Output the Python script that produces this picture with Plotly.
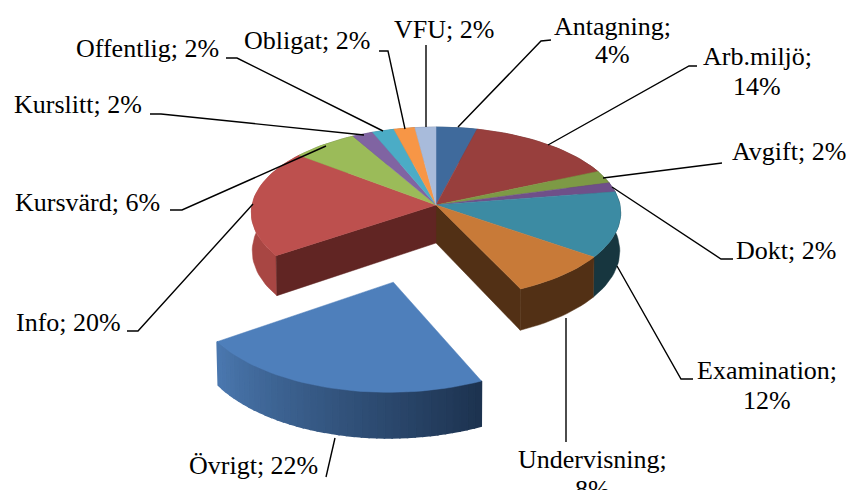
import math
import plotly.graph_objects as go

# ---- data ----
CATEGORIES = ["Antagning", "Arb.miljö", "Avgift", "Dokt", "Examination", "Undervisning",
              "Övrigt", "Info", "Kursvärd", "Kurslitt", "Offentlig", "Obligat", "VFU"]
VALUES = [3.9, 14.4, 2.4, 1.8, 12.4, 8.2, 22.4, 20.2, 6.3, 2.0, 2.1, 2.0, 2.0]
EXPLODED = "Övrigt"

# ---- styles ----
TOP_COLORS = ["#3f6a9c", "#983f3d", "#7d9a45", "#6f5089", "#3c8ba3", "#c87a38", "#4e7fbb",
              "#bd504e", "#9bbb59", "#8064a2", "#4bacc6", "#f79646", "#a8bbdb"]
SIDE_COLORS = ["#25405e", "#5c2624", "#4b5d2a", "#433053", "#17363f", "#523015", "#4a77ae",
               "#a84643", "#5d7136", "#4d3c62", "#2d6778", "#95592a", "#65718a"]
CUT_COLORS = {"Undervisning": "#523015", "Info": "#612523"}
GRADIENT_END = {"Övrigt": "#1d3350"}

# ---- layout: projection of the tilted pie ----
WIDTH, HEIGHT = 850, 490
CX, CY = 436, 205
RX, RY = 184, 85
PERSPECTIVE = 0.09
DEPTH = 38
DEPTH_SHRINK = 0.005
EXPLODE = 0.87
EXPLODE_NUDGE = 0.015
FONT = "Liberation Serif"
FONT_SIZE = 26

LABELS = [  # category, centre x, centre y of first line, y of the wrapped line (or None)
    ("Antagning", 612, 26, 55), ("Arb.miljö", 757, 56, 87), ("Avgift", 789, 151, None),
    ("Dokt", 786, 250, None), ("Examination", 767, 370, 401), ("Undervisning", 592, 459, 490),
    ("Övrigt", 253, 465, None), ("Info", 68, 322, None), ("Kursvärd", 87, 202, None),
    ("Kurslitt", 78, 104, None), ("Offentlig", 147, 48, None), ("Obligat", 307, 40, None),
    ("VFU", 444, 29, None),
]
LEADERS = [
    [(551, 40), (541, 41), (458, 127)],
    [(697, 66), (689, 66), (548, 145)],
    [(722, 163), (603, 178)],
    [(733, 259), (721, 259), (612, 187)],
    [(693, 379), (681, 379), (617, 266)],
    [(566, 442), (566, 318)],
    [(326, 477), (335, 438)],
    [(127, 331), (138, 331), (253, 204)],
    [(170, 210), (182, 210), (326, 146)],
    [(150, 114), (161, 114), (364, 135)],
    [(226, 58), (237, 58), (383, 131)],
    [(379, 51), (388, 51), (405, 129)],
    [(426, 45), (426, 127)],
]


def project(X, Y, down=0.0):
    s = 1 / (1 - PERSPECTIVE * Y)
    shrink = 1 - DEPTH_SHRINK * (down > 0)
    return CX + RX * X * s * shrink, CY + RY * Y * s + DEPTH * s * down


def point(theta, r=1.0, off=(0.0, 0.0)):
    return off[0] + r * math.sin(theta), off[1] - r * math.cos(theta)


def hex_mix(a, b, t):
    ca = [int(a[i:i + 2], 16) for i in (1, 3, 5)]
    cb = [int(b[i:i + 2], 16) for i in (1, 3, 5)]
    return "#%02x%02x%02x" % tuple(round(p + (q - p) * t) for p, q in zip(ca, cb))


def polygon(fig, pts, color, edge=0.5):
    fig.add_trace(go.Scatter(
        x=[p[0] for p in pts] + [pts[0][0]], y=[p[1] for p in pts] + [pts[0][1]],
        mode="lines", fill="toself", fillcolor=color,
        line=dict(color=color, width=edge), hoverinfo="skip", showlegend=False))


total = sum(VALUES)
spans = []
acc = 0.0
for v in VALUES:
    start = acc / total * 2 * math.pi
    acc += v
    spans.append((start, acc / total * 2 * math.pi))


def arc(a, b):
    n = max(3, int((b - a) / math.radians(2)))
    return [a + (b - a) * i / n for i in range(n + 1)]


def draw_sides(fig, i, off):
    name = CATEGORIES[i]
    a, b = spans[i]
    ts = arc(a, b)
    end = GRADIENT_END.get(name)
    if end is None:
        upper = [project(*point(t, off=off)) for t in ts]
        lower = [project(*point(t, off=off), 1) for t in reversed(ts)]
        polygon(fig, upper + lower, SIDE_COLORS[i])
        return
    for j in range(len(ts) - 1):
        p, q = point(ts[j], off=off), point(ts[j + 1], off=off)
        t = (len(ts) - 2 - j) / max(1, len(ts) - 2)
        col = hex_mix(SIDE_COLORS[i], end, t)
        polygon(fig, [project(*p), project(*q), project(*q, 1), project(*p, 1)], col, edge=1.6)


def draw_top(fig, i, off):
    a, b = spans[i]
    pts = [project(*off)] + [project(*point(t, off=off)) for t in arc(a, b)]
    polygon(fig, pts, TOP_COLORS[i])


fig = go.Figure()
idx_exp = CATEGORIES.index(EXPLODED)
for i in range(len(CATEGORIES)):
    if i != idx_exp:
        draw_sides(fig, i, (0.0, 0.0))
for name, color in CUT_COLORS.items():
    i = CATEGORIES.index(name)
    theta = spans[i][1] if name == "Undervisning" else spans[i][0]
    c, e = (0.0, 0.0), point(theta)
    polygon(fig, [project(*c), project(*e), project(*e, 1), project(*c, 1)], color)
for i in range(len(CATEGORIES)):
    if i != idx_exp:
        draw_top(fig, i, (0.0, 0.0))

mid = sum(spans[idx_exp]) / 2
ox, oy = point(mid, EXPLODE)
offset = (ox + EXPLODE_NUDGE, oy)
draw_sides(fig, idx_exp, offset)
draw_top(fig, idx_exp, offset)


def put_text(text, x, y, anchor="middle"):
    fig.add_annotation(x=x, y=y, text=text, showarrow=False, xanchor="center", yanchor=anchor,
                       font=dict(family=FONT, size=FONT_SIZE, color="#000000"))


for (name, x, y, y2) in LABELS:
    pct = round(VALUES[CATEGORIES.index(name)] / total * 100)
    if y2 is None:
        put_text(f"{name}; {pct}%", x, y)
    else:
        put_text(f"{name};", x, y)
        put_text(f"{pct}%", x, y2 - 17, anchor="top")

shapes = []
for pts in LEADERS:
    path = "M " + " L ".join(f"{x},{y}" for x, y in pts)
    shapes.append(dict(type="path", path=path, xref="x", yref="y",
                       line=dict(color="#000000", width=1.4)))

fig.update_layout(
    width=WIDTH, height=HEIGHT, margin=dict(l=0, r=0, t=0, b=0),
    paper_bgcolor="#ffffff", plot_bgcolor="#ffffff", showlegend=False, shapes=shapes,
    xaxis=dict(range=[0, WIDTH], visible=False, fixedrange=True),
    yaxis=dict(range=[HEIGHT, 0], visible=False, fixedrange=True),
)
fig.write_html("out.html", config={"displayModeBar": False},
               post_script="document.body.style.margin='0';document.body.style.overflow='hidden';")
